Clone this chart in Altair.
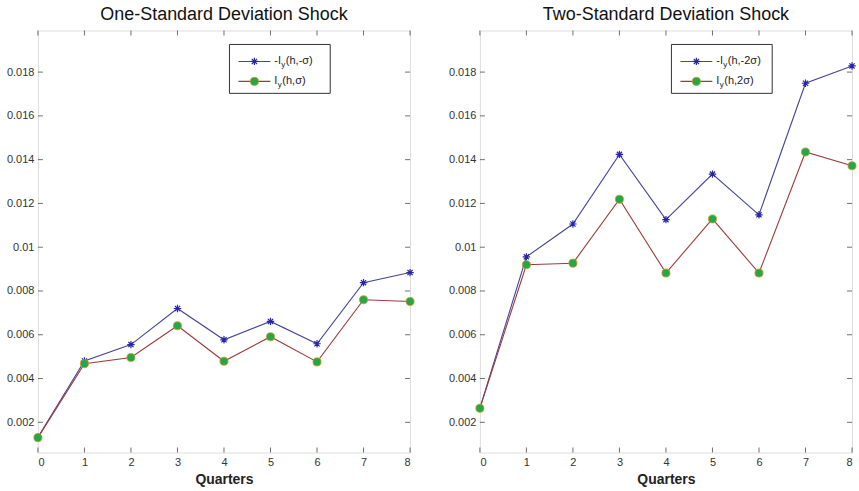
import altair as alt
import pandas as pd

quarters = [0, 1, 2, 3, 4, 5, 6, 7, 8]
neg_1sd = [0.00132, 0.00480, 0.00555, 0.00720, 0.00577, 0.00661, 0.00559, 0.00838, 0.00884]
pos_1sd = [0.00130, 0.00468, 0.00496, 0.00641, 0.00479, 0.00591, 0.00476, 0.00760, 0.00752]
neg_2sd = [0.00265, 0.00956, 0.01106, 0.01424, 0.01126, 0.01334, 0.01148, 0.01749, 0.01828]
pos_2sd = [0.00264, 0.00920, 0.00927, 0.01219, 0.00882, 0.01129, 0.00882, 0.01435, 0.01372]
y_ticks = [0.002, 0.004, 0.006, 0.008, 0.010, 0.012, 0.014, 0.016, 0.018]
x_ticks = quarters
titles = ["One-Standard Deviation Shock", "Two-Standard Deviation Shock"]
legend_neg = [("-I", "y", "(h,-σ)"), ("-I", "y", "(h,-2σ)")]
legend_pos = [("I", "y", "(h,σ)"), ("I", "y", "(h,2σ)")]

FONT = "Liberation Sans"
W, H = 373, 423
BLUE_LINE = "#45459a"
BLUE_MARK = "#2626a8"
RED_LINE = "#9a3c3c"
GREEN = "#22a84a"
GREEN_EDGE = "#d49a1c"
FRAME = "#333333"
ASTERISK = "M-1,0L1,0M0,-1L0,1M-0.7,-0.7L0.7,0.7M-0.7,0.7L0.7,-0.7"

xscale = alt.Scale(domain=[0, 8], nice=False, zero=False)
yscale = alt.Scale(domain=[0.00062, 0.0199], nice=False, zero=False)
xaxis = alt.Axis(values=x_ticks, format="d", title="Quarters", grid=False, ticks=False,
                 tickSize=0, domain=False, labelPadding=4, labelFontSize=11,
                 labelColor="#333333", labelFont=FONT, titleFont=FONT, titleFontSize=14,
                 titleFontWeight="bold", titleColor="#222222", titlePadding=5)
yaxis = alt.Axis(values=y_ticks, format=".3~f", title=None, grid=False, ticks=False,
                 tickSize=0, domain=False, labelPadding=4, labelFontSize=11,
                 labelColor="#333333", labelFont=FONT, minExtent=33, maxExtent=33)


def one():
    return alt.Chart(pd.DataFrame({"a": [0]}))


def panel(neg, pos, title, lab_neg, lab_pos):
    df = pd.DataFrame({"q": quarters, "neg": neg, "pos": pos})
    X = alt.X("q:Q", scale=xscale, axis=xaxis)
    base = alt.Chart(df)
    layers = [
        base.mark_line(color=BLUE_LINE, strokeWidth=1.1).encode(x=X, y=alt.Y("neg:Q", scale=yscale, axis=yaxis)),
        base.mark_point(shape=ASTERISK, filled=False, color=BLUE_MARK, size=55, strokeWidth=1.2, opacity=1).encode(
            x=X, y=alt.Y("neg:Q", scale=yscale, axis=yaxis)),
        base.mark_line(color=RED_LINE, strokeWidth=1.1).encode(x=X, y=alt.Y("pos:Q", scale=yscale, axis=yaxis)),
        base.mark_point(shape="circle", filled=True, fill=GREEN, stroke=GREEN_EDGE, strokeWidth=0.8,
                        size=66, opacity=1).encode(x=X, y=alt.Y("pos:Q", scale=yscale, axis=yaxis)),
    ]
    # inward ticks on all four sides
    ydf = pd.DataFrame({"v": y_ticks})
    xdf = pd.DataFrame({"v": x_ticks})
    for xv in [2.5, W - 2.5]:
        layers.append(alt.Chart(ydf).mark_tick(orient="horizontal", size=5, thickness=1, color=FRAME).encode(
            y=alt.Y("v:Q", scale=yscale, axis=yaxis), x=alt.value(xv)))
    for yv in [2.5, H - 2.5]:
        layers.append(alt.Chart(xdf).mark_tick(orient="vertical", size=5, thickness=1, color=FRAME).encode(
            x=alt.X("v:Q", scale=xscale, axis=xaxis), y=alt.value(yv)))
    # legend box
    bx0, bx1, by0, by1 = 192, 293, 14, 63
    layers.append(one().mark_rect(fill="white", stroke=FRAME, strokeWidth=1).encode(
        x=alt.value(bx0), x2=alt.value(bx1), y=alt.value(by0), y2=alt.value(by1)))
    rows = [(31, BLUE_LINE, lab_neg, "neg"), (51, RED_LINE, lab_pos, "pos")]
    for ry, col, lab, kind in rows:
        layers.append(one().mark_rule(color=col, strokeWidth=1.1).encode(
            x=alt.value(201), x2=alt.value(233), y=alt.value(ry)))
        if kind == "neg":
            layers.append(one().mark_point(shape=ASTERISK, filled=False, color=BLUE_MARK, size=55,
                                           strokeWidth=1.2, opacity=1).encode(x=alt.value(217), y=alt.value(ry)))
        else:
            layers.append(one().mark_point(shape="circle", filled=True, fill=GREEN, stroke=GREEN_EDGE,
                                           strokeWidth=0.8, size=66, opacity=1).encode(
                x=alt.value(217), y=alt.value(ry)))
        a, s, b = lab
        w_a = 7 if a == "-I" else 3.5
        lx = 237
        layers.append(one().mark_text(align="left", baseline="middle", fontSize=11, font=FONT,
                                      color="#222222").encode(
            x=alt.value(lx), y=alt.value(ry), text=alt.value(a)))
        layers.append(one().mark_text(align="left", baseline="middle", fontSize=8, font=FONT,
                                      color="#222222").encode(
            x=alt.value(lx + w_a), y=alt.value(ry + 4), text=alt.value(s)))
        layers.append(one().mark_text(align="left", baseline="middle", fontSize=11, font=FONT,
                                      color="#222222").encode(
            x=alt.value(lx + w_a + 4.5), y=alt.value(ry), text=alt.value(b)))
    return alt.layer(*layers).properties(
        width=W, height=H,
        title=alt.TitleParams(title, fontSize=18, font=FONT, fontWeight="normal", color="#111111",
                              anchor="middle", offset=7))


left = panel(neg_1sd, pos_1sd, titles[0], legend_neg[0], legend_pos[0])
right = panel(neg_2sd, pos_2sd, titles[1], legend_neg[1], legend_pos[1])

chart = alt.hconcat(left, right, spacing=29).properties(
    padding={"left": 4, "top": 4, "right": 0, "bottom": 0}
).configure_view(stroke=FRAME, strokeWidth=1.2).configure(background="white")

chart.save("out.html", embed_options={"renderer": "svg", "actions": False})
